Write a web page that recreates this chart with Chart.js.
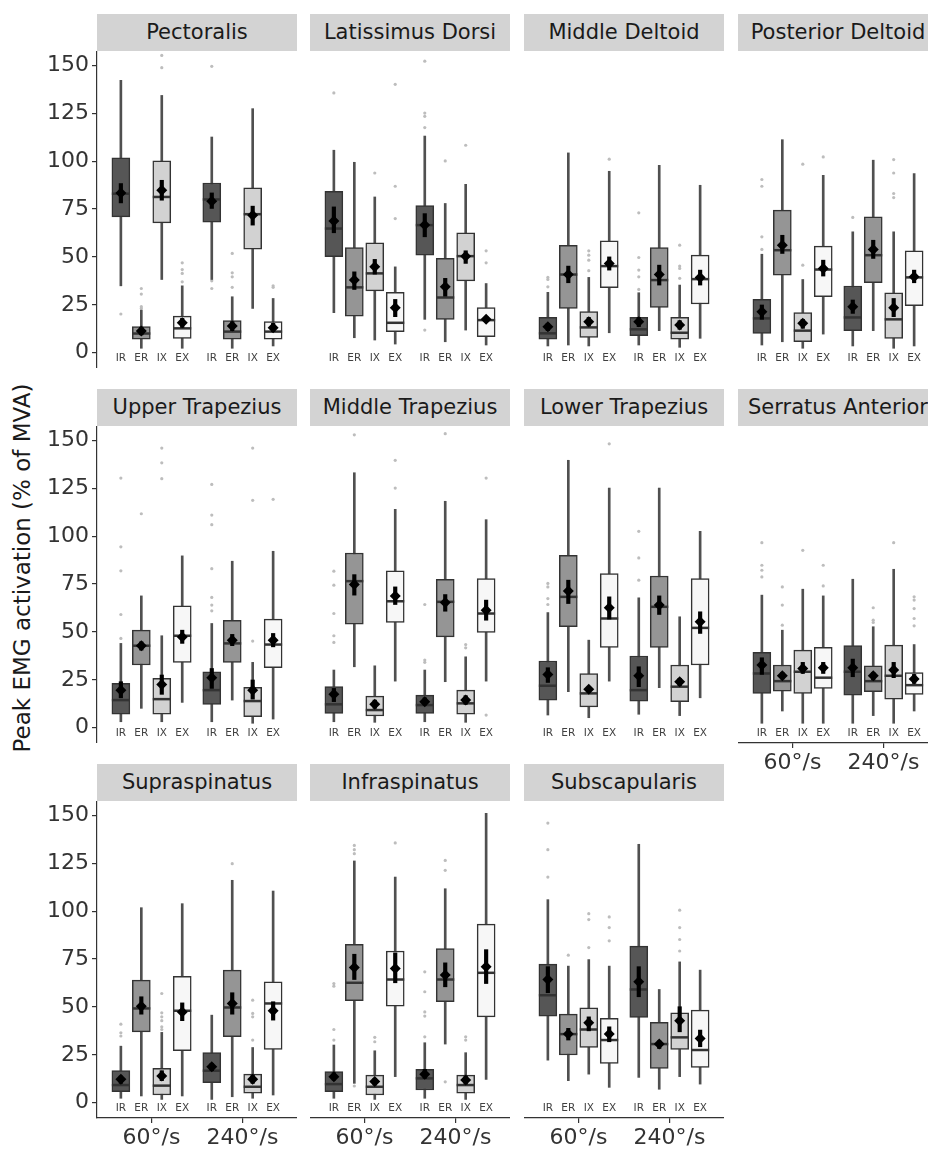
<!DOCTYPE html>
<html lang="en">
<head>
<meta charset="utf-8">
<title>Peak EMG activation</title>
<script src="https://cdn.jsdelivr.net/npm/chart.js@4.4.1/dist/chart.umd.min.js"></script>
<style>
  html, body { margin: 0; padding: 0; background: #fff; }
  #figure { position: relative; width: 928px; height: 1153px; overflow: hidden; font-family: "DejaVu Sans", sans-serif; }
  .strip { position: absolute; height: 37px; line-height: 37px; background: #d3d3d3; color: #1a1a1a; font-size: 21px; text-align: center; white-space: nowrap; }
  .panel { position: absolute; }
  #ytitle { position: absolute; left: 22px; top: 568px; transform: translate(-50%, -50%) rotate(-90deg); font-size: 23px; color: #1a1a1a; white-space: nowrap; }
</style>
</head>
<body>
<div id="figure">
  <div id="ytitle">Peak EMG activation (% of MVA)</div>
</div>
<script>
// Muscles (un panneau chacun), conditions et vitesses
const muscles = ['Pectoralis', 'Latissimus Dorsi', 'Middle Deltoid', 'Posterior Deltoid',
  'Upper Trapezius', 'Middle Trapezius', 'Lower Trapezius', 'Serratus Anterior',
  'Supraspinatus', 'Infraspinatus', 'Subscapularis'];
const conditions = ['IR', 'ER', 'IX', 'EX'];
const speeds = ['60°/s', '240°/s'];
const yTicks = [0, 25, 50, 75, 100, 125, 150];

// Une ligne par muscle : IR ER IX EX à 60°/s puis IR ER IX EX à 240°/s
const whiskerLow = [
  [34.9, 2.3, 38.2, 2.3, 38.2, 2.3, 23.1, 3.5],
  [20.9, 7.8, 6.6, 4.5, 17.4, 5.7, 11.8, 4],
  [3.5, 4, 3.5, 10.4, 4, 11.5, 2.8, 7.5],
  [4, 5.7, 2.3, 9.7, 3.5, 11.5, 2.3, 3.5],
  [3.1, 10.1, 3.1, 13.2, 3.1, 14.4, 2.3, 4.5],
  [3.1, 31.8, 2.8, 24.3, 3.1, 24, 2.8, 24.3],
  [6.6, 18.8, 5.2, 24.3, 7, 20.9, 6.3, 15.6],
  [2.3, 8.7, 2.3, 2.3, 2.3, 6.3, 2.3, 8.7],
  [2.3, 3.5, 1.7, 3.5, 1.7, 3.1, 2.3, 4],
  [2.3, 10.1, 1.7, 13.6, 2.3, 30.6, 1.7, 12.2],
  [22.2, 11.5, 14.9, 8, 13.2, 7, 13.6, 9.7]
];
const q1 = [
  [70.9, 7.1, 67.8, 7.5, 68.1, 7.1, 54, 7.1],
  [50.1, 19.1, 32.3, 11, 50.9, 17.4, 37.5, 8.3],
  [7.1, 23.1, 8, 33.9, 8.9, 23.6, 7.1, 25.4],
  [10.1, 40.5, 5.7, 29.2, 11.5, 36.5, 7.5, 24.5],
  [7, 32.7, 7, 34.1, 12.2, 34.1, 5.7, 31.3],
  [7.5, 54, 6.1, 54.9, 7.5, 47.4, 7, 49.7],
  [14.4, 52.7, 10.9, 41.9, 13.9, 41.9, 13.6, 32.7],
  [17.9, 19.1, 17.9, 20.5, 17, 18.8, 14.9, 17.4],
  [5.7, 37, 4, 27.1, 10.4, 34.4, 4.9, 27.8],
  [5.7, 53.2, 4, 50.4, 6.6, 52.7, 4.9, 44.8],
  [45.2, 24.9, 28.8, 20.5, 44.5, 17.9, 27.8, 18.4]
];
const median = [
  [83, 10, 81.3, 12.7, 80, 11, 72.3, 11],
  [64.8, 34.1, 41.4, 15.6, 66.6, 28.8, 50.4, 17],
  [10.1, 40.8, 13.2, 45.2, 12.2, 37.9, 10.4, 38.4],
  [17.9, 53.5, 11.5, 43.4, 18.4, 50.9, 17.4, 39.3],
  [14.4, 42.8, 14.9, 48, 19.6, 44, 13.9, 43.4],
  [12.2, 76.5, 9.2, 66, 11.8, 65.7, 12.7, 59.6],
  [21.9, 68.3, 17.9, 57, 19.6, 63.1, 21.4, 52.1],
  [28.3, 24.3, 29.2, 26.1, 29.2, 24.3, 27.1, 22.2],
  [9.2, 49.2, 8.9, 48, 16.7, 49.7, 8.3, 51.8],
  [9.7, 62.6, 8.3, 64.3, 12.7, 64.3, 9.2, 67.8],
  [56.1, 35.8, 38.2, 32.7, 59.1, 30.6, 34.1, 27.5]
];
const q3 = [
  [101.7, 13.6, 100.1, 19.1, 88.6, 16.7, 86, 16.2],
  [84.3, 54.9, 57.4, 31.5, 76.8, 49.2, 62.6, 23.5],
  [18.4, 56.1, 21.4, 58.4, 18.4, 54.9, 18.4, 50.9],
  [27.8, 74.4, 20.9, 55.6, 34.8, 70.9, 31.3, 53.2],
  [23.1, 50.9, 25.7, 63.6, 29.2, 56.1, 21, 56.7],
  [21.4, 91.2, 16.5, 81.9, 17, 77.5, 19.6, 77.9],
  [34.8, 90, 28.3, 80.5, 37.4, 79.2, 32.7, 77.9],
  [39.3, 32.7, 40.5, 41.9, 42.8, 32.3, 43.1, 28.8],
  [16.7, 64, 17.9, 66, 26.2, 69.2, 14.9, 63.1],
  [16.2, 82.7, 14.4, 79.2, 17.4, 80.5, 14.4, 93.2],
  [72.3, 46.2, 49.5, 44, 81.7, 41.9, 46.9, 48.3]
];
const whiskerHigh = [
  [142.2, 22.2, 134.3, 34.9, 112.6, 29.2, 127.4, 28.3],
  [105.7, 99.4, 81.3, 44.8, 113.1, 77.9, 87.9, 36.1],
  [31.5, 104.3, 39.3, 94.7, 31.3, 97.8, 35.3, 87.4],
  [51.4, 111.2, 38.2, 92.6, 63.1, 100.5, 63.1, 93.5],
  [44, 68.8, 48, 89.7, 54.4, 86.9, 34.1, 92.1],
  [30.1, 133.1, 32.3, 114, 30.1, 118.2, 37, 108.6],
  [60.1, 139.6, 45.7, 125.1, 67.8, 125.1, 57.9, 102.5],
  [69.2, 50.9, 72.3, 68.8, 77.5, 52.7, 82.7, 43.4],
  [29.5, 101.8, 36.7, 103.9, 45.7, 116.1, 28.8, 110.5],
  [30.1, 126.2, 27.1, 117.8, 31.3, 111.7, 26.1, 151],
  [106, 71.3, 74.7, 71.3, 134.9, 59.1, 73.5, 69.2]
];
// Moyennes et intervalles de confiance
const meanVal = [
  [83.4, 11.3, 84.8, 15.6, 79.1, 13.9, 71.8, 13],
  [68.8, 37.9, 44.8, 23.5, 66.6, 34.4, 50.4, 17.4],
  [13.6, 40.8, 16.2, 46.6, 16.2, 40.8, 14.4, 39.3],
  [21.4, 56.1, 15.3, 44, 24, 53.9, 23.5, 39.6],
  [19.6, 42.8, 22.6, 47.4, 26.1, 45.7, 19.6, 45.7],
  [17.4, 74.7, 12.2, 68.8, 13.6, 65.3, 14.4, 61.3],
  [27.8, 71.3, 20, 62.6, 27.1, 64, 24, 55.3],
  [32.7, 27.1, 30.9, 31.3, 31.3, 27.1, 30.1, 25.4],
  [12.2, 50.4, 13.9, 47.4, 18.8, 51.8, 12.2, 48],
  [13.6, 70.6, 11, 70, 14.9, 66.6, 11.8, 70.9],
  [64.3, 35.8, 41.7, 35.8, 63.1, 30.6, 42.8, 33.5]
];
const ciLow = [
  [78.2, 9.3, 79.6, 13.2, 75.3, 11.5, 66.6, 11],
  [62.6, 33, 41, 18.8, 60.5, 29.5, 46.6, 16.2],
  [11.5, 36.5, 13.9, 43.1, 13.6, 35.3, 12.2, 35.3],
  [17.4, 51.8, 12.7, 40, 20.5, 49.2, 18.8, 36.5],
  [15.6, 40.5, 17.4, 44, 20.5, 42.8, 14.9, 42.2],
  [13.6, 69.2, 10.1, 64.3, 11.8, 60.8, 12.2, 56.1],
  [23.6, 64.8, 18.4, 56.7, 21.4, 59.1, 21.9, 49.2],
  [27.8, 25.4, 28.3, 28.3, 26.6, 24.9, 26.1, 23.1],
  [10.1, 46.2, 11.5, 42.8, 16.7, 46.2, 10.1, 43.1],
  [11.8, 64.3, 9.2, 62.6, 12.7, 60.5, 9.7, 62.2],
  [57.4, 32.7, 37.5, 31.8, 55.3, 28.3, 37, 29.2]
];
const ciHigh = [
  [88.3, 13.3, 90, 17.9, 83.4, 16.2, 76.5, 15.3],
  [76.1, 42.2, 48.7, 27.8, 72.6, 38.8, 53.2, 18.8],
  [15.3, 45.2, 18.4, 50, 18.4, 45.7, 16.7, 43.1],
  [24.9, 61.3, 17.4, 48.3, 27.5, 58.7, 28.3, 43.1],
  [24, 44.8, 27.5, 50.9, 30.9, 48.7, 24.9, 49.2],
  [20.5, 79.9, 14.4, 73.5, 15.6, 69.5, 16.7, 66.6],
  [31.3, 77, 21.4, 68.3, 31.8, 68.8, 25.7, 60.5],
  [36.5, 28.8, 34.1, 34.1, 35.8, 28.8, 34.1, 27.8],
  [13.9, 55.3, 16.7, 52.1, 20.5, 57.4, 14.4, 52.7],
  [15.6, 77.5, 12.7, 78.2, 17.4, 73, 13.9, 79.9],
  [71, 38.8, 44.8, 39.6, 71, 32.3, 50.1, 37.9]
];
// Valeurs aberrantes
const outliers = [
  [[20.2], [33.5, 30.6, 24, 23.1], [155.2, 148.8], [46.9, 43.4, 41.4, 37], [149.5, 37.5, 33.5], [51.8, 41.7, 39.6, 34.1], [], [34.9, 34.1]],
  [[135.6], [], [93.8], [140.1, 86.9, 70], [152.2, 125.1, 123.4, 117.5, 11.8], [100.1], [108.3], [53.2, 46.9]],
  [[39.3, 38.2, 34.4], [], [53.2, 50.9, 48.3, 42.8], [101], [73, 49.7, 43.1, 39.6, 33], [], [56.1, 45.2, 44, 38.8], []],
  [[90.4, 86.9, 60.5, 53.9], [], [98.4, 45.7], [102.2], [70.6], [], [100.8, 93.8, 83.1, 81], []],
  [[130.3, 94.4, 81.9, 59.1, 46.6], [111.7], [146, 138.3, 130], [], [127, 111, 106, 83, 68, 64, 61], [], [146, 118.7, 45.2], [119.2]],
  [[81.7, 74.4, 59.6, 48, 44.5], [152.9], [], [139.6, 125.1], [64.3, 35.3, 34.1], [153.5], [43.4, 41.7], [130.3, 6.6]],
  [[75.3, 73.5, 67.4, 64.3], [], [], [148.2], [102.5, 88.6, 77], [], [], []],
  [[96.6, 84.8, 82.2, 78.7], [73.5, 64, 53.5], [92.6], [84.8, 74], [], [62.6, 56.1, 54.9], [96.6], [68.3, 66.6, 62.2, 57, 53.2]],
  [[41, 36.5, 34.8], [], [57, 46.9, 44.8, 42.8, 39.6, 38.2], [], [], [124.8], [53.5, 46.6, 44.8, 32.7], []],
  [[62.2, 60.8, 38.2, 32.7], [134.3, 132.1, 130, 8.7], [34.1, 31.8], [135.6], [68.3, 57.9, 47.4, 45.2, 34.4], [126.5, 121.3, 10.9], [34.4, 32.7], []],
  [[146, 132.1, 117.8], [77], [98.7, 95.6, 81], [97, 91.4, 84.5], [], [], [100.5, 91.4, 85.2, 79.2], []]
];

// Mise en page des panneaux
const fills = ['#565656', '#959595', '#d2d2d2', '#f7f7f7'];
const colLeft = [97, 310, 524, 738];
const rowTop = [51, 426, 801];
const panelW = 200;
const panelH = 317;
const stripH = 37;
const yAxisW = 97;
const xAxisH = 40;
const yMin = -8;
const yMax = 157.5;
const labelY = -3;
const FONT = '"DejaVu Sans", sans-serif';

// Position horizontale (esquive de 0.9 autour de chaque vitesse)
function xPos(j) {
    const g = Math.floor(j / 4);
    const k = j % 4;
    return g + 1 + (k - 1.5) * 0.225;
}

// Étiquettes IR / ER / IX / EX sous chaque boîte
const conditionLabels = {
    id: 'conditionLabels',
    afterDatasetsDraw(chart) {
        const { ctx, scales } = chart;
        ctx.save();
        ctx.font = '10.5px ' + FONT;
        ctx.fillStyle = '#404040';
        ctx.textAlign = 'center';
        ctx.textBaseline = 'middle';
        for (let j = 0; j < 8; j++) {
            ctx.fillText(conditions[j % 4], scales.x.getPixelForValue(xPos(j)), scales.y.getPixelForValue(labelY));
        }
        ctx.restore();
    }
};

document.addEventListener('DOMContentLoaded', function() {
    muscles.forEach((m, i) => createPanel(i));
});

function createPanel(i) {
    const row = Math.floor(i / 4);
    const col = i % 4;
    const leftAxis = col === 0;
    const bottomAxis = i + 4 >= muscles.length;
    const fig = document.getElementById('figure');

    // Bandeau gris avec le nom du muscle
    const strip = document.createElement('div');
    strip.className = 'strip';
    strip.style.left = colLeft[col] + 'px';
    strip.style.top = (rowTop[row] - stripH) + 'px';
    strip.style.width = panelW + 'px';
    strip.textContent = muscles[i];
    fig.appendChild(strip);

    const canvas = document.createElement('canvas');
    const w = panelW + (leftAxis ? yAxisW : 0);
    const h = panelH + (bottomAxis ? xAxisH : 0);
    canvas.width = w;
    canvas.height = h;
    canvas.className = 'panel';
    canvas.style.left = (colLeft[col] - (leftAxis ? yAxisW : 0)) + 'px';
    canvas.style.top = rowTop[row] + 'px';
    canvas.style.width = w + 'px';
    canvas.style.height = h + 'px';
    fig.appendChild(canvas);

    const range = (lo, hi) => lo[i].map((v, j) => ({ x: xPos(j), y: [v, hi[i][j]] }));
    const points = (vals) => vals[i].map((v, j) => ({ x: xPos(j), y: v }));
    const outlierPts = [];
    outliers[i].forEach((list, j) => list.forEach(v => outlierPts.push({ x: xPos(j), y: v })));

    new Chart(canvas, {
        type: 'bar',
        data: {
            datasets: [
                {
                    type: 'scatter',
                    data: outlierPts,
                    pointRadius: 1.6,
                    pointBackgroundColor: '#bdbdbd',
                    pointBorderWidth: 0,
                    order: 6
                },
                {
                    // moustaches
                    data: range(whiskerLow, whiskerHigh),
                    backgroundColor: '#505050',
                    barThickness: 2,
                    grouped: false,
                    order: 5
                },
                {
                    // boîtes Q1-Q3
                    data: range(q1, q3),
                    backgroundColor: fills.concat(fills),
                    borderColor: '#333333',
                    borderWidth: 1.5,
                    borderSkipped: false,
                    barThickness: 18,
                    grouped: false,
                    order: 4
                },
                {
                    type: 'scatter',
                    data: points(median),
                    pointStyle: 'line',
                    pointRadius: 9,
                    pointBorderColor: '#333333',
                    pointBorderWidth: 2.5,
                    order: 3
                },
                {
                    // intervalle de confiance de la moyenne
                    data: range(ciLow, ciHigh),
                    backgroundColor: '#000000',
                    barThickness: 3.5,
                    grouped: false,
                    order: 2
                },
                {
                    type: 'scatter',
                    data: points(meanVal),
                    pointStyle: 'rectRot',
                    pointRadius: 5.5,
                    pointBackgroundColor: '#000000',
                    pointBorderColor: '#000000',
                    pointBorderWidth: 0,
                    order: 1
                }
            ]
        },
        options: {
            responsive: false,
            animation: false,
            events: [],
            layout: { padding: 0, autoPadding: false },
            plugins: {
                legend: { display: false },
                tooltip: { enabled: false }
            },
            scales: {
                x: {
                    type: 'linear',
                    display: bottomAxis,
                    min: 0.4,
                    max: 2.6,
                    offset: false,
                    afterBuildTicks: s => { s.ticks = speeds.map((sp, g) => ({ value: g + 1 })); },
                    afterFit: s => {
                        s.paddingLeft = 0;
                        s.paddingRight = 0;
                        if (bottomAxis) s.height = xAxisH;
                    },
                    ticks: {
                        autoSkip: false,
                        maxRotation: 0,
                        padding: 2,
                        color: '#333333',
                        font: { family: FONT, size: 22 },
                        callback: (v, idx) => speeds[idx]
                    },
                    grid: { offset: false, drawOnChartArea: false, drawTicks: true, tickLength: 5, color: '#333333', lineWidth: 1.2 },
                    border: { display: true, color: '#333333', width: 1.2 }
                },
                y: {
                    type: 'linear',
                    display: leftAxis,
                    min: yMin,
                    max: yMax,
                    afterBuildTicks: s => { s.ticks = yTicks.map(v => ({ value: v })); },
                    afterFit: s => {
                        // les étiquettes extrêmes tiennent déjà dans la zone du graphique
                        s.paddingTop = 0;
                        s.paddingBottom = 0;
                        if (leftAxis) s.width = yAxisW;
                    },
                    ticks: {
                        padding: 3,
                        color: '#333333',
                        font: { family: FONT, size: 22 }
                    },
                    grid: { drawOnChartArea: false, drawTicks: true, tickLength: 5, color: '#333333', lineWidth: 1.2 },
                    border: { display: true, color: '#333333', width: 1.2 }
                }
            }
        },
        plugins: [conditionLabels]
    });
}
</script>
</body>
</html>
